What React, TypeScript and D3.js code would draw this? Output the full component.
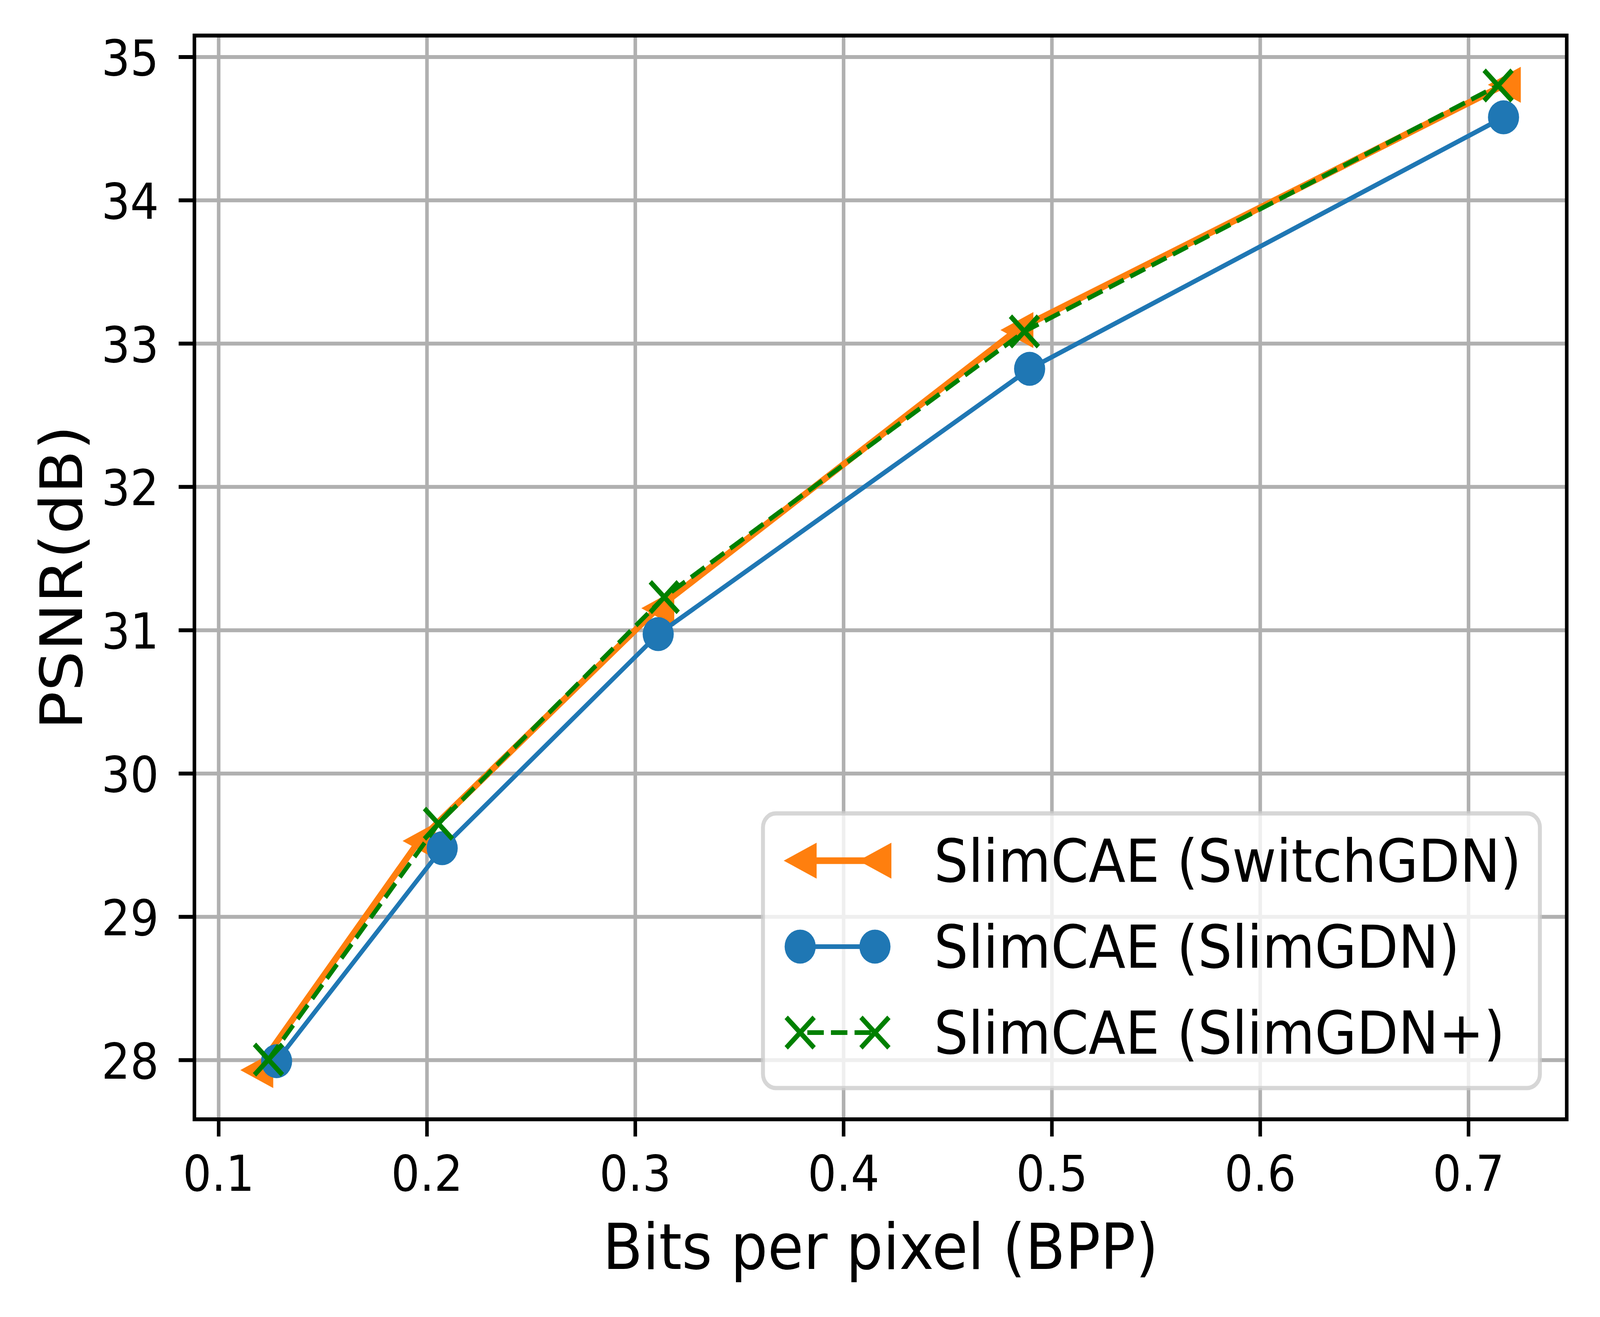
import React from 'react';
import * as d3 from 'd3';

// values
const switchBpp = [0.1183, 0.1962, 0.3108, 0.4832, 0.7172];
const switchPsnr = [27.931, 29.53, 31.154, 33.095, 34.806];

const slimBpp = [0.1278, 0.2073, 0.311, 0.4893, 0.7168];
const slimPsnr = [27.993, 29.479, 30.973, 32.824, 34.579];

const slimPlusBpp = [0.1239, 0.2055, 0.3139, 0.4868, 0.7142];
const slimPlusPsnr = [28.004, 29.65, 31.231, 33.085, 34.801];

const seriesNames = ['SlimCAE (SwitchGDN)', 'SlimCAE (SlimGDN)', 'SlimCAE (SlimGDN+)'];

const xTicks = [0.1, 0.2, 0.3, 0.4, 0.5, 0.6, 0.7];
const xTickLabels = ['0.1', '0.2', '0.3', '0.4', '0.5', '0.6', '0.7'];
const yTicks = [28, 29, 30, 31, 32, 33, 34, 35];
const yTickLabels = ['28', '29', '30', '31', '32', '33', '34', '35'];

const W = 4473;
const H = 3371;
const FONT = '"DejaVu Sans", sans-serif';

const ORANGE = '#ff7f0e';
const BLUE = '#1f77b4';
const GREEN = '#008000';

type Pt = [number, number];
const zip = (a: number[], b: number[]): Pt[] => a.map((v, i) => [v, b[i]]);

// matplotlib-style 5% autoscale margin
const withMargin = (vals: number[]) => {
  const lo = d3.min(vals)!;
  const hi = d3.max(vals)!;
  const m = (hi - lo) * 0.05;
  return [lo - m, hi + m];
};

const triPath = (h: number) => `M${-h},0L${h},${-h}L${h},${h}Z`;
const crossPath = (h: number) => `M${-h},${-h}L${h},${h}M${-h},${h}L${h},${-h}`;

export default function App() {
  const margin = { left: 543.5, right: 4380, top: 91, bottom: 2865 };

  const x = d3.scaleLinear()
    .domain(withMargin([...switchBpp, ...slimBpp, ...slimPlusBpp]))
    .range([margin.left, margin.right]);
  const y = d3.scaleLinear()
    .domain(withMargin([...switchPsnr, ...slimPsnr, ...slimPlusPsnr]))
    .range([margin.bottom, margin.top]);

  const line = d3.line<Pt>().x(d => x(d[0])).y(d => y(d[1]));

  const switchData = zip(switchBpp, switchPsnr);
  const slimData = zip(slimBpp, slimPsnr);
  const plusData = zip(slimPlusBpp, slimPlusPsnr);

  const triH = 46;
  const circR = 43.5;
  const crossH = 39;

  // legend geometry
  const lg = { x0: 2133, x1: 4305, y0: 2082, y1: 2785 };
  const rowY = [2203, 2423, 2643];
  const hx0 = 2237;
  const hx1 = 2446;
  const textX = 2611;

  return (
    <svg
      viewBox={`0 0 ${W} ${H}`}
      preserveAspectRatio="none"
      style={{ position: 'fixed', left: 0, top: 0, width: '100vw', height: '100vh', background: '#fff' }}
    >
      <rect x={0} y={0} width={W} height={H} fill="#fff" />

      {/* grid */}
      <g stroke="#b0b0b0" strokeWidth={10}>
        {xTicks.map(t => (
          <line key={`gx${t}`} x1={x(t)} x2={x(t)} y1={margin.top} y2={margin.bottom} />
        ))}
        {yTicks.map(t => (
          <line key={`gy${t}`} x1={margin.left} x2={margin.right} y1={y(t)} y2={y(t)} />
        ))}
      </g>

      {/* SwitchGDN */}
      <path d={line(switchData)!} fill="none" stroke={ORANGE} strokeWidth={17} strokeLinejoin="round" />
      {switchData.map((d, i) => (
        <path key={`s${i}`} d={triPath(triH)} transform={`translate(${x(d[0])},${y(d[1])})`} fill={ORANGE} />
      ))}

      {/* SlimGDN */}
      <path d={line(slimData)!} fill="none" stroke={BLUE} strokeWidth={12} strokeLinejoin="round" />
      {slimData.map((d, i) => (
        <circle key={`b${i}`} cx={x(d[0])} cy={y(d[1])} r={circR} fill={BLUE} />
      ))}

      {/* SlimGDN+ */}
      <path d={line(plusData)!} fill="none" stroke={GREEN} strokeWidth={12} strokeDasharray="46 20" />
      {plusData.map((d, i) => (
        <path key={`g${i}`} d={crossPath(crossH)} transform={`translate(${x(d[0])},${y(d[1])})`} stroke={GREEN} strokeWidth={13} fill="none" />
      ))}

      {/* spines */}
      <rect
        x={margin.left}
        y={margin.top}
        width={margin.right - margin.left}
        height={margin.bottom - margin.top}
        fill="none"
        stroke="#000"
        strokeWidth={10}
      />

      {/* ticks */}
      <g stroke="#000" strokeWidth={10}>
        {xTicks.map(t => (
          <line key={`tx${t}`} x1={x(t)} x2={x(t)} y1={margin.bottom} y2={margin.bottom + 44} />
        ))}
        {yTicks.map(t => (
          <line key={`ty${t}`} x1={margin.left - 44} x2={margin.left} y1={y(t)} y2={y(t)} />
        ))}
      </g>
      <g fontFamily={FONT} fontSize={126} fill="#000">
        {xTicks.map((t, i) => (
          <text key={`lx${t}`} x={x(t)} y={3048} textAnchor="middle">{xTickLabels[i]}</text>
        ))}
        {yTicks.map((t, i) => (
          <text key={`ly${t}`} x={444} y={y(t) + 47} textAnchor="end">{yTickLabels[i]}</text>
        ))}
      </g>

      {/* axis labels */}
      <text x={(margin.left + margin.right) / 2} y={3248} textAnchor="middle" fontFamily={FONT} fontSize={163}>
        Bits per pixel (BPP)
      </text>
      <text
        transform={`translate(229,${(margin.top + margin.bottom) / 2}) rotate(-90)`}
        textAnchor="middle"
        fontFamily={FONT}
        fontSize={163}
      >
        PSNR(dB)
      </text>

      {/* legend */}
      <rect
        x={lg.x0}
        y={lg.y0}
        width={lg.x1 - lg.x0}
        height={lg.y1 - lg.y0}
        rx={36}
        ry={36}
        fill="#fff"
        fillOpacity={0.8}
        stroke="#cccccc"
        strokeOpacity={0.8}
        strokeWidth={11}
      />
      <line x1={hx0} x2={hx1} y1={rowY[0]} y2={rowY[0]} stroke={ORANGE} strokeWidth={17} />
      {[hx0, hx1].map(hx => (
        <path key={`lt${hx}`} d={triPath(triH)} transform={`translate(${hx},${rowY[0]})`} fill={ORANGE} />
      ))}
      <line x1={hx0} x2={hx1} y1={rowY[1]} y2={rowY[1]} stroke={BLUE} strokeWidth={12} />
      {[hx0, hx1].map(hx => (
        <circle key={`lc${hx}`} cx={hx} cy={rowY[1]} r={circR} fill={BLUE} />
      ))}
      <line x1={hx0} x2={hx1} y1={rowY[2]} y2={rowY[2]} stroke={GREEN} strokeWidth={12} strokeDasharray="46 20" strokeDashoffset={-20} />
      {[hx0, hx1].map(hx => (
        <path key={`lx${hx}`} d={crossPath(crossH)} transform={`translate(${hx},${rowY[2]})`} stroke={GREEN} strokeWidth={13} fill="none" />
      ))}
      <g fontFamily={FONT} fontSize={151} fill="#000">
        {seriesNames.map((name, i) => (
          <text key={name} x={textX} y={rowY[i] + 54}>{name}</text>
        ))}
      </g>
    </svg>
  );
}
